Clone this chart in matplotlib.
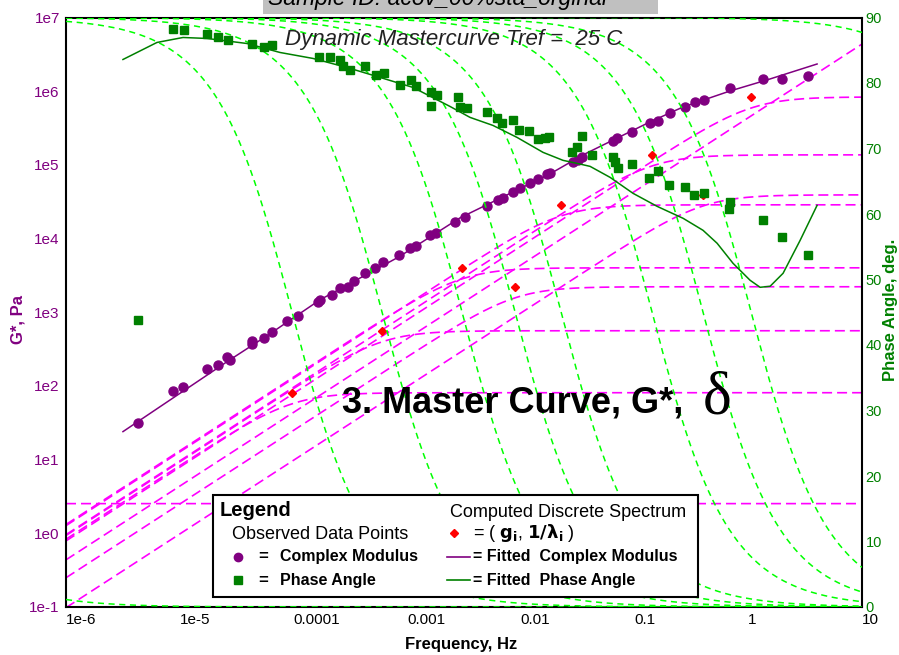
import numpy as np
import matplotlib
matplotlib.use("Agg")
import matplotlib.pyplot as plt
from matplotlib.patches import Rectangle
from matplotlib.ticker import FixedLocator, NullLocator

plt.rcParams['font.family'] = ['Liberation Sans', 'DejaVu Sans']

# observed complex modulus: log10 reduced frequency (Hz), log10 G* (Pa)
gstar_logf = [-5.367, -5.059, -4.971, -4.760, -4.663, -4.584, -4.558, -4.364, -4.364, -4.259,
              -4.188, -4.056, -3.960, -3.784, -3.766, -3.661, -3.590, -3.520, -3.467, -3.370,
              -3.282, -3.212, -3.071, -2.974, -2.922, -2.799, -2.746, -2.579, -2.491, -2.297,
              -2.201, -2.157, -2.069, -2.007, -1.919, -1.849, -1.770, -1.743, -1.541, -1.497,
              -1.462, -1.189, -1.154, -1.022, -0.864, -0.793, -0.688, -0.556, -0.468, -0.389,
              -0.160, 0.130, 0.297, 0.526]
gstar_logg = [1.502, 1.936, 1.990, 2.234, 2.288, 2.397, 2.356, 2.614, 2.573, 2.654,
              2.736, 2.885, 2.953, 3.142, 3.169, 3.237, 3.332, 3.346, 3.427, 3.536,
              3.603, 3.685, 3.780, 3.875, 3.902, 4.051, 4.078, 4.227, 4.295, 4.444,
              4.525, 4.553, 4.634, 4.688, 4.756, 4.810, 4.878, 4.892, 5.041, 5.068,
              5.108, 5.325, 5.366, 5.447, 5.569, 5.597, 5.705, 5.786, 5.854, 5.881,
              6.044, 6.166, 6.166, 6.207]

# observed phase angle: log10 reduced frequency (Hz), degrees
phase_logf = [-5.367, -5.059, -4.962, -4.760, -4.663, -4.575, -4.364, -4.259, -4.188, -3.775,
              -3.678, -3.590, -3.564, -3.502, -3.370, -3.274, -3.203, -3.062, -2.966, -2.922,
              -2.790, -2.737, -2.790, -2.552, -2.535, -2.473, -2.297, -2.209, -2.165, -2.069,
              -2.016, -1.928, -1.849, -1.787, -1.752, -1.462, -1.506, -1.550, -1.374, -1.189,
              -1.172, -1.145, -1.022, -0.872, -0.793, -0.697, -0.556, -0.477, -0.389, -0.160,
              -0.169, 0.130, 0.297, 0.526]
phase_deg = [43.78, 88.17, 88.02, 87.41, 86.95, 86.64, 86.03, 85.42, 85.73, 83.90,
             83.90, 83.44, 82.53, 81.91, 82.53, 81.15, 81.46, 79.63, 80.39, 79.47,
             78.56, 78.10, 76.42, 77.80, 76.27, 76.12, 75.51, 74.59, 73.83, 74.29,
             72.76, 72.61, 71.39, 71.54, 71.69, 71.85, 70.17, 69.41, 68.95, 68.64,
             67.88, 66.97, 67.58, 65.44, 66.51, 64.37, 64.07, 62.85, 63.15, 61.78,
             60.71, 59.03, 56.44, 53.69]

# fitted curves
fit_g_logf = [-5.499, -4.584, -4.206, -3.766, -3.071, -2.535, -1.743, -1.453, -0.864,
              -0.573, -0.160, 0.165, 0.605]
fit_g_logg = [1.380, 2.329, 2.708, 3.169, 3.753, 4.281, 4.878, 5.136, 5.583,
              5.786, 6.003, 6.153, 6.369]
fit_p_logf = [-5.499, -5.200, -4.971, -4.760, -4.408, -4.118, -3.828, -3.529, -3.238, -2.948,
              -2.623, -2.447, -2.245, -2.033, -1.805, -1.629, -1.506, -1.391, -1.215, -1.013,
              -0.802, -0.573, -0.398, -0.274, -0.134, 0.016, 0.104, 0.192, 0.306, 0.456, 0.605]
fit_p_deg = [83.59, 86.19, 86.95, 86.80, 86.03, 84.66, 83.75, 82.37, 80.85, 79.32,
             76.42, 74.75, 73.52, 71.69, 69.41, 68.19, 67.73, 67.27, 65.59, 63.15,
             61.17, 59.34, 57.51, 55.53, 52.47, 49.88, 48.81, 48.97, 50.95, 55.98, 61.32]

# discrete spectrum (g_i, 1/lambda_i), log10 values
spec_logf = [-7.7, -4.012, -3.221, -2.517, -2.051, -1.646, -0.846, -0.398, 0.025, 2.4]
spec_logg = [0.403, 1.908, 2.749, 3.603, 3.346, 4.458, 5.136, 4.593, 5.922, 8.04]

xtick_labels = ['1e-6', '1e-5', '0.0001', '0.001', '0.01', '0.1', '1', '10']
ytick_labels = ['1e-1', '1e0', '1e1', '1e2', '1e3', '1e4', '1e5', '1e6', '1e7']

PURPLE = '#800080'
GREEN = '#008000'
MAGENTA = '#ff00ff'
LIME = '#00ff00'

gstar_f, gstar = 10.0 ** np.array(gstar_logf), 10.0 ** np.array(gstar_logg)
phase_f = 10.0 ** np.array(phase_logf)
fit_g_f, fit_g = 10.0 ** np.array(fit_g_logf), 10.0 ** np.array(fit_g_logg)
fit_p_f = 10.0 ** np.array(fit_p_logf)
spec_f, spec_g = 10.0 ** np.array(spec_logf), 10.0 ** np.array(spec_logg)

fig = plt.figure(figsize=(8.99, 6.55), dpi=100)
ax = fig.add_axes([66 / 899, 48 / 655, 796 / 899, 589.5 / 655])
ax.set_xscale('log')
ax.set_yscale('log')
ax.set_xlim(1e-6, 10)
ax.set_ylim(1e-1, 1e7)
ax2 = ax.twinx()
ax2.set_ylim(0, 90)

# single Maxwell element curves: |G*_i| and delta_i
freq = np.logspace(-6, 1, 600)
for fc, g in zip(spec_f, spec_g):
    w = freq / fc
    ax.plot(freq, g * w / np.sqrt(1 + w ** 2), color=MAGENTA, lw=1.2, ls=(0, (6, 3)))
    ax2.plot(freq, np.degrees(np.arctan(1 / w)), color=LIME, lw=1.1, ls=(0, (4, 3)), zorder=3)

ax.plot(fit_g_f, fit_g, color=PURPLE, lw=1.1)
ax.plot(gstar_f, gstar, 'o', color=PURPLE, ms=6.5)
ax.plot(spec_f, spec_g, 'D', color='red', ms=4.5)
ax2.plot(fit_p_f, fit_p_deg, color=GREEN, lw=1.1, zorder=3)
ax2.plot(phase_f, phase_deg, 's', color=GREEN, ms=6, zorder=3)

ax.xaxis.set_major_locator(FixedLocator([10.0 ** k for k in range(-6, 2)]))
ax.set_xticklabels(xtick_labels)
ax.yaxis.set_major_locator(FixedLocator([10.0 ** k for k in range(-1, 8)]))
ax.set_yticklabels(ytick_labels)
ax.xaxis.set_minor_locator(NullLocator())
ax.yaxis.set_minor_locator(NullLocator())
for lab in ax.get_xticklabels():
    lab.set_horizontalalignment('left')
ax.tick_params(axis='x', length=0, pad=4, labelsize=11, colors='black')
ax.tick_params(axis='y', length=0, pad=4.5, labelsize=11, labelcolor=PURPLE)
ax2.set_yticks(range(0, 91, 10))
ax2.tick_params(axis='y', length=0, pad=2.5, labelsize=10.5, labelcolor=GREEN)
for s in ax.spines.values():
    s.set_linewidth(1.5)
    s.set_color('black')
for s in ax2.spines.values():
    s.set_visible(False)

# text layer in pixel coordinates
ov = fig.add_axes([0, 0, 1, 1], zorder=10)
ov.set_xlim(0, 899)
ov.set_ylim(655, 0)
ov.axis('off')
ov.patch.set_alpha(0)

ov.add_patch(Rectangle((263, -5), 395, 19, fc='#c0c0c0', ec='none'))
ov.text(268, 5, 'Sample ID: acov_00%sta_orginal', fontsize=16.5, style='italic',
        va='baseline', ha='left')
ov.text(285, 45, 'Dynamic Mastercurve Tref =  25 C', fontsize=16, style='italic',
        va='baseline', ha='left', color='#222222')

ov.text(342, 413, '3. Master Curve, G*,', fontsize=26, fontweight='bold', va='baseline')
ov.text(703, 414, '\u03b4', fontsize=44, family=['Liberation Serif', 'DejaVu Serif'],
        va='baseline')

ov.text(461, 645, 'Frequency, Hz', fontsize=12, fontweight='bold', ha='center', va='center')
ov.text(18, 320, 'G*, Pa', fontsize=12, fontweight='bold', color=PURPLE,
        rotation=90, ha='center', va='center')
ov.text(891, 310, 'Phase Angle, deg.', fontsize=12, fontweight='bold', color=GREEN,
        rotation=90, ha='center', va='center')

# legend box
ov.add_patch(Rectangle((213, 495), 485, 102, fc='white', ec='black', lw=1.5))
ov.text(220, 516, 'Legend', fontsize=14.5, fontweight='bold', va='baseline')
ov.text(232, 539, 'Observed Data Points', fontsize=13, va='baseline')
ov.text(450, 517, 'Computed Discrete Spectrum', fontsize=13, va='baseline')
ov.plot([238], [557], 'o', color=PURPLE, ms=6)
ov.plot([238], [580], 's', color=GREEN, ms=5.5)
ov.plot([454], [533], 'D', color='red', ms=4)
ov.plot([447, 470], [557, 557], color=PURPLE, lw=1.2)
ov.plot([447, 470], [580, 580], color=GREEN, lw=1.2)
for yy in (557, 580):
    ov.text(263, yy, '=', fontsize=12, fontweight='bold', ha='center', va='center')
ov.text(280, 557, 'Complex Modulus', fontsize=11.5, fontweight='bold', va='center')
ov.text(280, 580, 'Phase Angle', fontsize=11.5, fontweight='bold', va='center')
ov.text(473, 533, r'= ( $\mathbf{g_i}$, $\mathbf{1/\lambda_i}$ )', fontsize=13, va='center')
ov.text(473, 557, '= Fitted  Complex Modulus', fontsize=11.5, fontweight='bold', va='center')
ov.text(473, 580, '= Fitted  Phase Angle', fontsize=11.5, fontweight='bold', va='center')

fig.savefig('out.png', dpi=100)
